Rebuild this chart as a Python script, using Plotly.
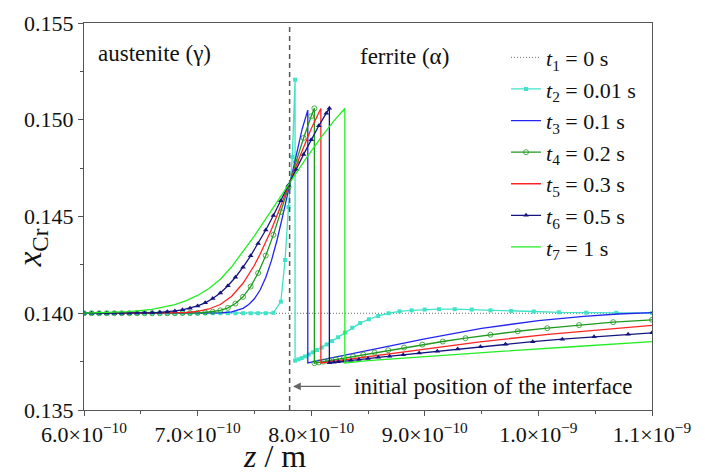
import plotly.graph_objects as go

FONT = "'Liberation Serif', 'DejaVu Serif', serif"

# ---------------- data (z in units of 1e-10 m) ----------------
z_mesh = [6.000, 6.067, 6.133, 6.200, 6.267, 6.333, 6.400, 6.467, 6.533, 6.600,
          6.667, 6.733, 6.800, 6.867, 6.933, 7.000, 7.067, 7.133, 7.200, 7.267,
          7.333, 7.400, 7.467, 7.533, 7.600, 7.667, 7.733, 7.800, 7.867, 7.933,
          8.000, 8.067, 8.133]

z_t1 = [6.0, 11.0]
xcr_t1 = [0.14, 0.14]

z_t2 = z_mesh[:26] + [7.733, 7.770, 7.800, 7.834, 7.858, 7.858,
                      7.887, 7.917, 7.946, 7.978, 8.014, 8.052, 8.093, 8.137, 8.184, 8.237,
                      8.296, 8.361, 8.431, 8.508, 8.590, 8.681, 8.778, 8.884, 8.999, 9.125,
                      9.263, 9.413, 9.578, 9.760, 9.960, 10.180, 10.421, 10.686, 11.000]
xcr_t2 = [0.14000] * 25 + [0.14002,
          0.14060, 0.14275, 0.14549, 0.14807, 0.15207, 0.13755,
          0.13762, 0.13768, 0.13777, 0.13787, 0.13798, 0.13810, 0.13823, 0.13839, 0.13856, 0.13876,
          0.13900, 0.13925, 0.13949, 0.13969, 0.13986, 0.14000, 0.14010, 0.14015, 0.14019, 0.14021,
          0.14021, 0.14019, 0.14015, 0.14012, 0.14009, 0.14005, 0.14003, 0.14002, 0.14001]

z_t3 = [6.0, 7.0, 7.2, 7.3, 7.4, 7.45, 7.5, 7.55, 7.6, 7.65, 7.7, 7.75, 7.814, 7.87, 7.92, 7.97,
        7.97, 8.2, 8.6, 9.0, 9.5, 10.0, 10.4, 10.7, 11.0]
xcr_t3 = [0.14000, 0.14000, 0.14002, 0.14007, 0.14025, 0.14045, 0.14075, 0.14120, 0.14185,
          0.14272, 0.14380, 0.14505, 0.14679, 0.14827, 0.14951, 0.15050,
          0.13743, 0.13772, 0.13820, 0.13868, 0.13922, 0.13962, 0.13984, 0.13996, 0.14003]

z_t4 = z_mesh[:31] + [8.028, 8.028, 8.068, 8.108, 8.158, 8.218, 8.288, 8.368, 8.458, 8.558,
                      8.678, 8.818, 8.978, 9.158, 9.358, 9.578, 9.818, 10.078, 10.358, 10.658, 11.000]
xcr_t4 = [0.14000] * 13 + [0.14001, 0.14001, 0.14002, 0.14004, 0.14008, 0.14015, 0.14028,
          0.14050, 0.14085, 0.14138, 0.14208, 0.14298, 0.14405, 0.14523, 0.14651, 0.14782,
          0.14906, 0.15018, 0.15059,
          0.13742, 0.13746, 0.13750, 0.13756, 0.13762, 0.13769, 0.13777, 0.13787, 0.13797,
          0.13809, 0.13823, 0.13838, 0.13854, 0.13871, 0.13889, 0.13907, 0.13923, 0.13939,
          0.13954, 0.13966]

z_t5 = [6.0, 6.7, 6.9, 7.0, 7.1, 7.2, 7.3, 7.4, 7.45, 7.5, 7.55, 7.6, 7.65, 7.7, 7.75, 7.814,
        7.9, 8.0, 8.085, 8.085, 8.285, 8.585, 8.985, 9.485, 10.085, 10.585, 11.0]
xcr_t5 = [0.14000, 0.14001, 0.14004, 0.14010, 0.14022, 0.14045, 0.14088, 0.14155, 0.14200,
          0.14248, 0.14305, 0.14366, 0.14433, 0.14507, 0.14585, 0.14679, 0.14810, 0.14953,
          0.15058, 0.13743, 0.13759, 0.13783, 0.13815, 0.13852, 0.13891, 0.13917, 0.13937]

z_t6 = z_mesh + [8.160, 8.160, 8.200, 8.240, 8.290, 8.350, 8.420, 8.500, 8.590, 8.690, 8.810,
                 8.950, 9.110, 9.290, 9.490, 9.710, 9.950, 10.210, 10.490, 10.790, 11.000]
xcr_t6 = [0.14000] * 7 + [0.14001, 0.14002, 0.14003, 0.14005, 0.14008, 0.14012, 0.14018,
          0.14026, 0.14038, 0.14054, 0.14076, 0.14105, 0.14142, 0.14186, 0.14238, 0.14297,
          0.14361, 0.14430, 0.14505, 0.14581, 0.14662, 0.14743, 0.14821, 0.14897, 0.14969,
          0.15034, 0.15060,
          0.13744, 0.13747, 0.13749, 0.13752, 0.13756, 0.13761, 0.13766, 0.13772, 0.13778,
          0.13785, 0.13794, 0.13804, 0.13815, 0.13827, 0.13840, 0.13853, 0.13866, 0.13879,
          0.13891, 0.13899]

z_t7 = [6.0, 6.2, 6.4, 6.6, 6.8, 6.9, 7.0, 7.1, 7.2, 7.3, 7.4, 7.5, 7.6, 7.7, 7.814, 7.95,
        8.1, 8.2, 8.296, 8.296, 8.5, 8.8, 9.2, 9.7, 10.3, 11.0]
xcr_t7 = [0.14001, 0.14003, 0.14008, 0.14020, 0.14045, 0.14065, 0.14092, 0.14128, 0.14176,
          0.14240, 0.14318, 0.14400, 0.14488, 0.14578, 0.14679, 0.14796, 0.14919, 0.14994,
          0.15058, 0.13743, 0.13755, 0.13768, 0.13784, 0.13804, 0.13827, 0.13853]

legend_names = ["<i>t</i><sub>1</sub> = 0 s", "<i>t</i><sub>2</sub> = 0.01 s",
                "<i>t</i><sub>3</sub> = 0.1 s", "<i>t</i><sub>4</sub> = 0.2 s",
                "<i>t</i><sub>5</sub> = 0.3 s", "<i>t</i><sub>6</sub> = 0.5 s",
                "<i>t</i><sub>7</sub> = 1 s"]

x_tickvals = [6, 7, 8, 9, 10, 11]
x_ticktext = ["6.0×10<sup>−10</sup>", "7.0×10<sup>−10</sup>", "8.0×10<sup>−10</sup>",
              "9.0×10<sup>−10</sup>", "1.0×10<sup>−9</sup>", "1.1×10<sup>−9</sup>"]
y_tickvals = [0.135, 0.140, 0.145, 0.150, 0.155]
y_ticktext = ["0.135", "0.140", "0.145", "0.150", "0.155"]

interface_z = 7.81

for a, b in [(z_t2, xcr_t2), (z_t3, xcr_t3), (z_t4, xcr_t4), (z_t5, xcr_t5),
             (z_t6, xcr_t6), (z_t7, xcr_t7)]:
    assert len(a) == len(b), (len(a), len(b))

# ---------------- figure ----------------
styles = [
    dict(color="#6a6a6a", dash="1px,2px", width=1.0, mode="lines", marker=None),
    dict(color="#3FE3C8", dash="solid", width=1.3, mode="lines+markers",
         marker=dict(symbol="square", size=4, color="#3FE3C8")),
    dict(color="#2424F2", dash="solid", width=1.3, mode="lines", marker=None),
    dict(color="#1E9A1E", dash="solid", width=1.3, mode="lines+markers",
         marker=dict(symbol="circle-open", size=5, color="#1E9A1E", line=dict(width=0.8))),
    dict(color="#FF2424", dash="solid", width=1.3, mode="lines", marker=None),
    dict(color="#15157F", dash="solid", width=1.3, mode="lines+markers",
         marker=dict(symbol="triangle-up", size=5, color="#15157F")),
    dict(color="#22EE22", dash="solid", width=1.3, mode="lines", marker=None),
]
data = [(z_t1, xcr_t1), (z_t2, xcr_t2), (z_t3, xcr_t3), (z_t4, xcr_t4),
        (z_t5, xcr_t5), (z_t6, xcr_t6), (z_t7, xcr_t7)]

fig = go.Figure()
for i, ((zz, yy), st, nm) in enumerate(zip(data, styles, legend_names)):
    kw = dict(x=zz, y=yy, name=nm, mode=st["mode"], legendgroup=f"g{i}",
              line=dict(color=st["color"], dash=st["dash"], width=st["width"]))
    if st["marker"] is not None:
        kw["marker"] = st["marker"]
    fig.add_trace(go.Scatter(**kw))

axis_common = dict(showline=True, linecolor="#555555", linewidth=1, mirror=True,
                   ticks="outside", ticklen=5, tickwidth=1, tickcolor="#555555",
                   showgrid=False, zeroline=False,
                   tickfont=dict(family=FONT, size=22, color="#111111"))

fig.update_layout(
    width=705, height=476,
    margin=dict(l=84, r=53, t=23, b=66),
    paper_bgcolor="white", plot_bgcolor="white",
    font=dict(family=FONT, size=22, color="#111111"),
    showlegend=True,
    legend=dict(x=0.743, y=0.965, xanchor="left", yanchor="top",
                bgcolor="rgba(0,0,0,0)", borderwidth=0, tracegroupgap=0,
                font=dict(family=FONT, size=22, color="#111111")),
    xaxis=dict(range=[6, 11], tickmode="array", tickvals=x_tickvals, ticktext=x_ticktext,
               minor=dict(ticks="outside", ticklen=3, tickcolor="#555555",
                          tickmode="linear", tick0=6, dtick=0.5),
               **axis_common),
    yaxis=dict(range=[0.135, 0.155], tickmode="array", tickvals=y_tickvals,
               ticktext=y_ticktext,
               minor=dict(ticks="outside", ticklen=3, tickcolor="#555555",
                          tickmode="linear", tick0=0.135, dtick=0.0025),
               **axis_common),
)

fig.add_shape(type="line", xref="x", yref="paper", x0=interface_z, x1=interface_z, y0=0, y1=1,
              line=dict(color="#555555", width=1.5, dash="5px,4px"), layer="above")

annotations = [
    dict(text="<i>x</i><sub>Cr</sub>", xref="paper", yref="paper", x=-0.09, y=0.42,
         xanchor="center", yanchor="middle",
         textangle=-90, showarrow=False, font=dict(family=FONT, size=33)),
    dict(text="<i>z</i> / m", xref="paper", yref="paper", x=0.336, y=-0.118,
         xanchor="center", yanchor="middle", showarrow=False, font=dict(family=FONT, size=32)),
    dict(text="austenite (γ)", xref="paper", yref="paper", x=0.022, y=0.922,
         xanchor="left", yanchor="middle", showarrow=False, font=dict(family=FONT, size=23)),
    dict(text="ferrite (α)", xref="paper", yref="paper", x=0.482, y=0.914,
         xanchor="left", yanchor="middle", showarrow=False, font=dict(family=FONT, size=23)),
    dict(text="initial position of the interface", xref="x", yref="y", x=8.36, y=0.13622,
         xanchor="left", yanchor="middle", showarrow=False, font=dict(family=FONT, size=23)),
    dict(text="", xref="x", yref="y", x=7.84, y=0.13622, axref="x", ayref="y",
         ax=8.27, ay=0.13622, showarrow=True, arrowhead=2, arrowsize=1.3, arrowwidth=1.2,
         arrowcolor="#666666"),
]
fig.update_layout(annotations=annotations)

fig.write_html("out.html")
